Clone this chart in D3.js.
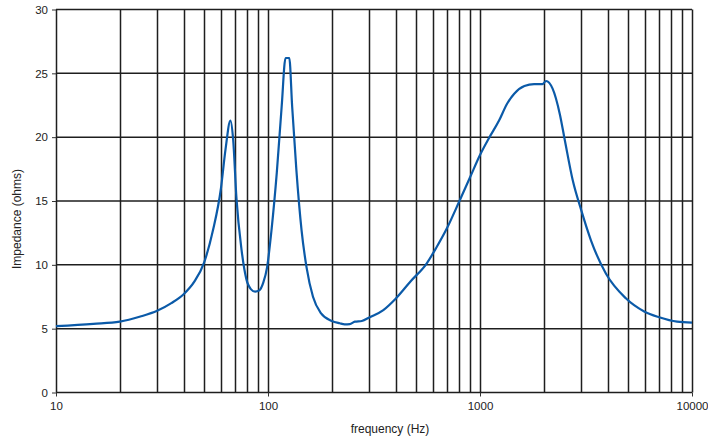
<!DOCTYPE html>
<html lang="en">
<head>
<meta charset="utf-8">
<title>Impedance</title>
<style>
  body { margin: 0; background: #fff; }
  svg text { font-family: "Liberation Sans", Arial, sans-serif; fill: #222; }
</style>
</head>
<body>
<svg id="chart" width="708" height="438"></svg>
<script src="https://d3js.org/d3.v7.min.js"></script>
<script>
// data
var freq = [10, 15, 20, 25, 30, 35, 40, 45, 50, 55, 60, 63, 66.5, 68.5, 71, 75, 79, 83, 87, 91,
            95, 99, 104, 110, 116, 121, 126, 130, 136, 144, 152, 163, 178, 200, 218, 230, 243,
            257, 277, 302, 350, 400, 470, 560, 620, 700, 800, 900, 1000, 1100, 1230, 1340, 1450, 1620,
            1800, 1970, 2050, 2200, 2380, 2510, 2740, 3000, 3340, 3930, 4860, 5950, 7000, 8500, 10000];
var impedance = [5.2, 5.38, 5.55, 5.95, 6.4, 7.0, 7.7, 8.7, 10.2, 12.7, 16.0, 19.0, 21.3, 19.8, 15.2, 11.2, 8.9, 8.1, 7.9, 8.0,
                 8.6, 9.8, 12.8, 17.2, 22.4, 26.2, 26.2, 22.4, 17.5, 12.7, 9.8, 7.5, 6.2, 5.6, 5.42, 5.34, 5.36,
                 5.55, 5.6, 5.9, 6.46, 7.35, 8.7, 10.1, 11.3, 12.9, 15.0, 16.9, 18.6, 19.9, 21.3, 22.6, 23.4, 24.0,
                 24.15, 24.15, 24.4, 23.8, 21.8, 19.8, 16.6, 14.3, 11.9, 9.3, 7.4, 6.35, 5.9, 5.55, 5.47];
var xTickLabels = [10, 100, 1000, 10000];
var yTicks = [0, 5, 10, 15, 20, 25, 30];

var svg = d3.select('#chart'),
    margin = {left: 56, right: 16, top: 9.5, bottom: 45.5},
    w = 708 - margin.left - margin.right,
    h = 438 - margin.top - margin.bottom;

var g = svg.append('g')
    .attr('transform', 'translate(' + margin.left + ',' + margin.top + ')');

var x = d3.scaleLog().domain([10, 10000]).range([0, w]);
var y = d3.scaleLinear().domain([0, 30]).range([h, 0]);

// vertical grid: every 1-9 multiple in each decade
var xGrid = [];
[10, 100, 1000].forEach(function (d) {
  for (var k = 1; k < 10; k++) xGrid.push(d * k);
});
xGrid.push(10000);

g.selectAll('.vgrid')
  .data(xGrid)
  .enter().append('line')
  .attr('class', 'vgrid')
  .attr('x1', function (d) { return Math.round(x(d)) + 0.5; })
  .attr('x2', function (d) { return Math.round(x(d)) + 0.5; })
  .attr('y1', 0).attr('y2', h)
  .attr('stroke', '#1e1e1e').attr('stroke-width', 1.5);

g.selectAll('.hgrid')
  .data(yTicks)
  .enter().append('line')
  .attr('class', 'hgrid')
  .attr('x1', 0).attr('x2', w)
  .attr('y1', function (d) { return y(d); })
  .attr('y2', function (d) { return y(d); })
  .attr('stroke', '#1e1e1e').attr('stroke-width', 1.5);

// axes
var yAxis = d3.axisLeft(y).tickValues(yTicks).tickSize(4).tickPadding(4);
var yg = g.append('g').call(yAxis);
yg.select('.domain').remove();
yg.selectAll('line').attr('stroke', '#333');
yg.selectAll('text').style('font-size', '11.5px').attr('fill', '#222');

var xAxis = d3.axisBottom(x).tickValues(xTickLabels).tickFormat(d3.format('d')).tickSize(4).tickPadding(5);
var xg = g.append('g').attr('transform', 'translate(0,' + h + ')').call(xAxis);
xg.select('.domain').remove();
xg.selectAll('line').attr('stroke', '#333');
xg.selectAll('text').style('font-size', '11.5px').attr('fill', '#222');

// axis titles
svg.append('text')
  .attr('x', 390).attr('y', 433)
  .attr('text-anchor', 'middle')
  .style('font-size', '12px')
  .text('frequency (Hz)');

svg.append('text')
  .attr('transform', 'translate(21,219) rotate(-90)')
  .attr('text-anchor', 'middle')
  .style('font-size', '12px')
  .text('Impedance (ohms)');

// impedance curve
var points = freq.map(function (f, i) { return [f, impedance[i]]; });
var line = d3.line()
  .x(function (d) { return x(d[0]); })
  .y(function (d) { return y(d[1]); })
  .curve(d3.curveMonotoneX);

g.append('path')
  .datum(points)
  .attr('d', line)
  .attr('fill', 'none')
  .attr('stroke', '#0b5aa8')
  .attr('stroke-width', 2.2)
  .attr('stroke-linejoin', 'round');
</script>
</body>
</html>
